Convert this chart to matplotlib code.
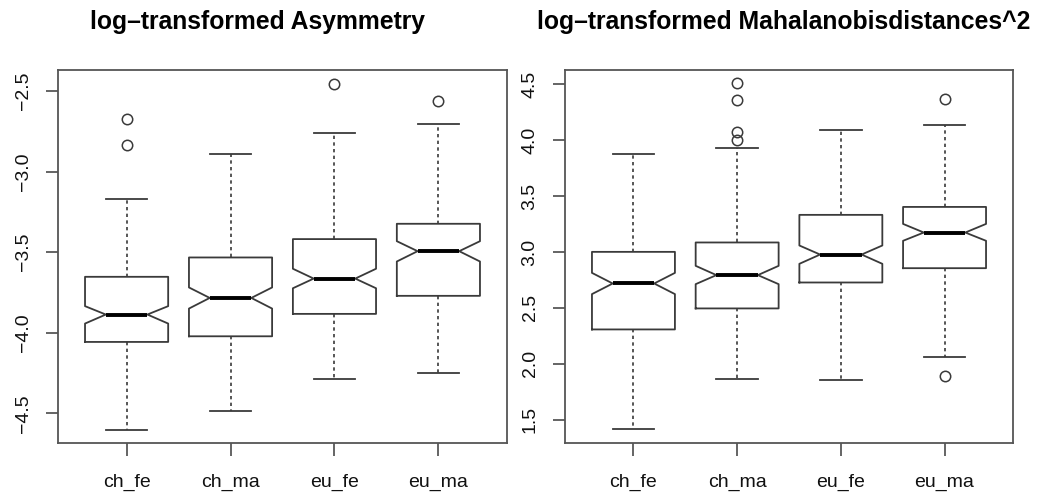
import matplotlib
matplotlib.use("Agg")
import matplotlib.pyplot as plt

plt.rcParams['font.family'] = ['Liberation Sans', 'DejaVu Sans']

groups = ["ch_fe", "ch_ma", "eu_fe", "eu_ma"]

# log-transformed Asymmetry
asym_whislo = [-4.601, -4.483, -4.289, -4.252]
asym_q1 = [-4.057, -4.022, -3.883, -3.771]
asym_med = [-3.887, -3.784, -3.664, -3.494]
asym_q3 = [-3.653, -3.533, -3.419, -3.324]
asym_whishi = [-3.171, -2.891, -2.759, -2.707]
asym_cilo = [-3.943, -3.850, -3.724, -3.558]
asym_cihi = [-3.835, -3.719, -3.603, -3.432]
asym_fliers = [[-2.676, -2.835], [], [-2.457], [-2.562]]

# log-transformed Mahalanobis distances^2
maha_whislo = [1.419, 1.860, 1.854, 2.057]
maha_q1 = [2.307, 2.495, 2.727, 2.855]
maha_med = [2.718, 2.793, 2.977, 3.174]
maha_q3 = [3.001, 3.085, 3.332, 3.403]
maha_whishi = [3.877, 3.928, 4.092, 4.139]
maha_cilo = [2.623, 2.712, 2.894, 3.100]
maha_cihi = [2.813, 2.876, 3.058, 3.251]
maha_fliers = [[], [4.509, 4.363, 4.074, 4.002], [], [4.372, 1.890]]

asym_yticks = [-4.5, -4.0, -3.5, -3.0, -2.5]
maha_yticks = [1.5, 2.0, 2.5, 3.0, 3.5, 4.0, 4.5]

titles = ["log\u2013transformed Asymmetry", "log\u2013transformed Mahalanobisdistances^2"]

LINE = "#3a3a3a"


def make_stats(whislo, q1, med, q3, whishi, cilo, cihi, fliers):
    out = []
    for i in range(len(groups)):
        out.append(dict(label=groups[i], whislo=whislo[i], q1=q1[i], med=med[i],
                        q3=q3[i], whishi=whishi[i], cilo=cilo[i], cihi=cihi[i],
                        fliers=fliers[i]))
    return out


fig = plt.figure(figsize=(10.44, 4.93), dpi=100)
ax1 = fig.add_axes([58 / 1044, 1 - 443 / 493, 449 / 1044, 373 / 493])
ax2 = fig.add_axes([565 / 1044, 1 - 443 / 493, 448 / 1044, 373 / 493])

datasets = [
    (ax1, make_stats(asym_whislo, asym_q1, asym_med, asym_q3, asym_whishi, asym_cilo, asym_cihi, asym_fliers),
     asym_yticks, (-4.684, -2.37)),
    (ax2, make_stats(maha_whislo, maha_q1, maha_med, maha_q3, maha_whishi, maha_cilo, maha_cihi, maha_fliers),
     maha_yticks, (1.291, 4.628)),
]

for ax, stats, yt, yl in datasets:
    ax.bxp(stats, positions=[1, 2, 3, 4], widths=0.8, shownotches=True,
           boxprops=dict(color=LINE, linewidth=1.3),
           whiskerprops=dict(color=LINE, linewidth=1.2, linestyle=(0, (2.0, 2.0))),
           capprops=dict(color=LINE, linewidth=1.3),
           medianprops=dict(color="black", linewidth=2.8, solid_capstyle="butt"),
           flierprops=dict(marker="o", markersize=7.5, markerfacecolor="none",
                           markeredgecolor=LINE, markeredgewidth=1.1))
    ax.set_xlim(0.34, 4.66)
    ax.set_ylim(*yl)
    ax.set_yticks(yt)
    ax.set_yticklabels([f"{v:.1f}".replace("-", "\u2212") for v in yt], rotation=90, va="center")
    ax.set_xticks([1, 2, 3, 4])
    ax.set_xticklabels(groups)
    ax.tick_params(axis="both", length=9, width=1.1, color=LINE, labelsize=14, pad=10, labelcolor="#111111")
    ax.tick_params(axis="x", labelsize=14, pad=13)
    for s in ax.spines.values():
        s.set_color("#555555")
        s.set_linewidth(1.3)

fig.text(257 / 1044, 1 - 22 / 493, titles[0], ha="center", va="center", fontsize=17.8, fontweight="bold")
fig.text(784 / 1044, 1 - 22 / 493, titles[1], ha="center", va="center", fontsize=17.8, fontweight="bold")

fig.savefig("out.png", dpi=100)
